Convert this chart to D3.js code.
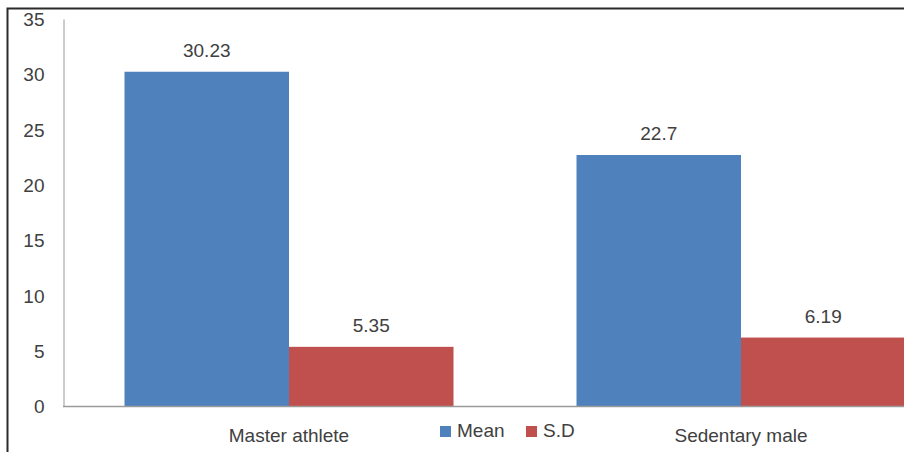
<!DOCTYPE html>
<html><head><meta charset="utf-8">
<script src="https://cdn.jsdelivr.net/npm/d3@7"></script>
<style>body{margin:0;background:#fff;}svg{display:block;font-family:"Liberation Sans",Arial,sans-serif;}</style>
</head><body>
<script>
const categories = ["Master athlete", "Sedentary male"];
const seriesNames = ["Mean", "S.D"];
const meanValues = [30.23, 22.7];
const sdValues = [5.35, 6.19];
const valueLabels = [["30.23", "5.35"], ["22.7", "6.19"]];
const yTicks = [0, 5, 10, 15, 20, 25, 30, 35];
const colors = ["#4F81BD", "#C0504D"];

const W = 904, H = 452;
const svg = d3.select("body").append("svg").attr("width", W).attr("height", H);

// frame
svg.append("rect").attr("x", 7.5).attr("y", 8.5).attr("width", 1000).attr("height", 1000)
  .attr("fill", "none").attr("stroke", "#2b2b2b").attr("stroke-width", 2);

const y = d3.scaleLinear().domain([0, 35]).range([406, 19]);
const x0 = d3.scaleBand().domain(categories).range([63, 967]).padding(0);
const x1 = d3.scaleBand().domain(seriesNames).range([61.5, 390.5]).padding(0);

const data = categories.map((c, i) => ({cat: c, vals: [meanValues[i], sdValues[i]], labels: valueLabels[i]}));

const g = svg.append("g");
data.forEach(d => {
  seriesNames.forEach((s, j) => {
    g.append("rect")
      .attr("x", x0(d.cat) + x1(s))
      .attr("y", y(d.vals[j]))
      .attr("width", x1.bandwidth())
      .attr("height", y(0) - y(d.vals[j]))
      .attr("fill", colors[j]);
    g.append("text")
      .attr("x", x0(d.cat) + x1(s) + x1.bandwidth() / 2)
      .attr("y", y(d.vals[j]) - 15)
      .attr("text-anchor", "middle")
      .attr("font-size", 19).attr("fill", "#404040")
      .text(d.labels[j]);
  });
});

// y axis
const yAxis = d3.axisLeft(y).tickValues(yTicks).tickSize(0).tickPadding(19);
const ya = svg.append("g").attr("transform", "translate(63.5,0)").call(yAxis);
ya.select(".domain").attr("stroke", "#9a9a9a").attr("stroke-width", 1);
ya.selectAll("text").attr("font-size", 19).attr("fill", "#404040")
  .attr("font-family", "Liberation Sans, Arial, sans-serif").attr("dy", "0.35em");

// x baseline
svg.append("line").attr("x1", 63).attr("x2", W).attr("y1", 406.5).attr("y2", 406.5)
  .attr("stroke", "#9a9a9a").attr("stroke-width", 1.5);

// category labels
categories.forEach(c => {
  svg.append("text").attr("x", x0(c) + x1("S.D")).attr("y", 442)
    .attr("text-anchor", "middle").attr("font-size", 19).attr("fill", "#404040").text(c);
});

// legend
const legX = [440, 526];
seriesNames.forEach((s, j) => {
  svg.append("rect").attr("x", legX[j]).attr("y", 426).attr("width", 11).attr("height", 11).attr("fill", colors[j]);
  svg.append("text").attr("x", legX[j] + 17).attr("y", 437).attr("font-size", 19).attr("fill", "#404040").text(s);
});
</script>
</body></html>
